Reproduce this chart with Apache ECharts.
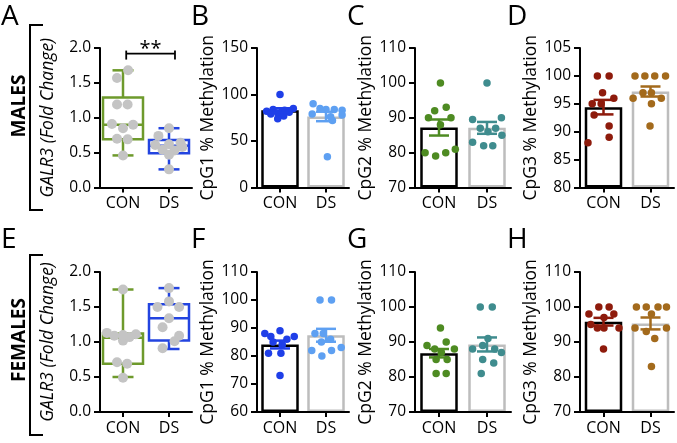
<!DOCTYPE html>
<html><head><meta charset="utf-8">
<script src="https://cdn.jsdelivr.net/npm/echarts@6/dist/echarts.min.js"></script>
<style>html,body{margin:0;padding:0;background:#fff}#chart{width:677px;height:443px}</style>
</head><body><div id="chart"></div>
<script>
const categories = ['CON', 'DS'];

// ---- A: males GALR3 (box: min, q1, median, q3, max) ----
const maleGalr3BoxCON = [0.46, 0.69, 0.90, 1.29, 1.68];
const maleGalr3BoxDS  = [0.26, 0.49, 0.60, 0.68, 0.85];
const maleGalr3CON = [1.68, 1.57, 1.19, 1.19, 0.91, 0.85, 0.90, 0.70, 0.69, 0.46];
const maleGalr3CONJitter = [0.11, -0.13, -0.13, 0.10, -0.24, 0, 0.22, -0.13, 0.10, 0];
const maleGalr3DS = [0.85, 0.74, 0.61, 0.62, 0.64, 0.54, 0.53, 0.58, 0.47, 0.26];
const maleGalr3DSJitter = [0, -0.23, -0.30, 0, 0.25, -0.14, 0.12, 0.29, 0, 0];
const maleSigBracket = [0.07, 1.13, 1.92];
const maleSigText = '**';

// ---- B: males CpG1 ----
const maleCpG1Mean = [83.0, 76.4];
const maleCpG1Sem = [2.2, 5.1];
const maleCpG1CON = [100, 85, 84, 83, 82, 81, 80, 79, 77, 74];
const maleCpG1CONJitter = [0, 0.29, -0.15, 0.10, -0.29, 0.20, -0.05, -0.20, 0.08, -0.05];
const maleCpG1DS = [90, 85, 84, 84, 83, 79, 78, 76, 72, 33];
const maleCpG1DSJitter = [-0.28, -0.13, 0, 0.18, 0.35, -0.30, 0.35, 0.10, 0.14, 0.03];

// ---- C: males CpG2 ----
const maleCpG2Mean = [87.2, 87.1];
const maleCpG2Sem = [2.3, 1.7];
const maleCpG2CON = [100, 92, 93, 90, 90, 88, 80, 79, 80, 81];
const maleCpG2CONJitter = [0.03, -0.09, 0.15, -0.22, 0.25, 0.03, -0.29, -0.07, 0.14, 0.34];
const maleCpG2DS = [100, 90, 89.5, 87, 87, 86, 85, 83, 82, 82];
const maleCpG2DSJitter = [0, 0.30, -0.30, -0.14, 0.18, 0.02, 0.31, -0.30, -0.07, 0.12];

// ---- D: males CpG3 ----
const maleCpG3Mean = [94.4, 97.2];
const maleCpG3Sem = [1.3, 0.9];
const maleCpG3CON = [100, 100, 97, 95, 95, 96, 93, 91, 88, 89];
const maleCpG3CONJitter = [-0.13, 0.12, -0.02, -0.24, -0.05, 0.22, -0.20, 0.12, -0.33, 0.12];
const maleCpG3DS = [100, 100, 100, 100, 97, 97, 96, 96, 95, 91];
const maleCpG3DSJitter = [-0.33, -0.12, 0.09, 0.32, -0.16, 0.02, -0.37, 0.23, 0.02, -0.01];

// ---- E: females GALR3 ----
const femaleGalr3BoxCON = [0.50, 0.69, 1.06, 1.12, 1.75];
const femaleGalr3BoxDS  = [0.90, 1.02, 1.34, 1.54, 1.77];
const femaleGalr3CON = [1.75, 1.13, 1.09, 1.02, 1.07, 1.11, 1.10, 0.71, 0.69, 0.49];
const femaleGalr3CONJitter = [0, -0.35, -0.19, 0, 0.14, 0.28, 0, -0.13, 0.09, 0];
const femaleGalr3DS = [1.77, 1.58, 1.50, 1.50, 1.34, 1.21, 1.09, 1.01, 0.91];
const femaleGalr3DSJitter = [0, 0, -0.25, 0.22, 0, -0.14, 0.22, 0.12, -0.14];

// ---- F: females CpG1 ----
const femaleCpG1Mean = [84.1, 87.4];
const femaleCpG1Sem = [1.4, 2.3];
const femaleCpG1CON = [89, 88, 87, 87, 86, 85, 84, 81, 81, 73];
const femaleCpG1CONJitter = [0, -0.33, -0.20, 0.31, 0.15, -0.15, 0.05, -0.25, 0.02, 0];
const femaleCpG1DS = [100, 100, 88, 88, 86, 85, 83, 82, 82, 80];
const femaleCpG1DSJitter = [-0.13, 0.12, -0.24, -0.06, 0.10, -0.10, 0.33, -0.31, 0.12, -0.09];

// ---- G: females CpG2 ----
const femaleCpG2Mean = [86.8, 89.3];
const femaleCpG2Sem = [1.2, 2.0];
const femaleCpG2CON = [94, 90, 89, 88, 88, 87, 85, 85, 81, 81];
const femaleCpG2CONJitter = [0.03, 0.15, -0.25, 0.32, -0.09, 0.05, -0.06, 0.17, -0.06, 0.15];
const femaleCpG2DS = [100, 100, 91, 89, 88, 88, 87, 85, 84, 81];
const femaleCpG2DSJitter = [-0.14, 0.11, 0.02, -0.09, -0.30, 0.16, 0.30, -0.09, 0.14, -0.12];

// ---- H: females CpG3 ----
const femaleCpG3Mean = [95.8, 95.3];
const femaleCpG3Sem = [1.1, 1.7];
const femaleCpG3CON = [100, 100, 98, 98, 97, 95, 94, 94, 94, 88];
const femaleCpG3CONJitter = [-0.10, 0.12, -0.31, 0.22, 0.01, -0.27, 0.01, 0.33, -0.13, 0];
const femaleCpG3DS = [100, 100, 100, 100, 98, 94, 94, 93, 91, 83];
const femaleCpG3DSJitter = [-0.30, -0.09, 0.16, 0.34, 0.02, -0.33, 0.34, -0.09, 0.09, 0.02];

// ---------------- drawing ----------------
const FONT = 'Open Sans';
const GRAY_DOT = '#c4c4c4';
const BOX_COLORS = ['#6e9a2c', '#2344e0'];
const CPG1_COLORS = ['#1f3fe8', '#5ea0f2'];
const CPG2_COLORS = ['#4e8b22', '#3f8c8e'];
const CPG3_COLORS = ['#8e1b0c', '#a36a1c'];
const BAR_BORDERS = ['#000000', '#bdbdbd'];

const option = {
  animation: false,
  backgroundColor: '#ffffff',
  grid: [], xAxis: [], yAxis: [], series: [], graphic: []
};

function addAxes(i, g, y) {
  option.grid.push({ left: g.left, top: g.top, width: g.width, height: g.height });
  option.xAxis.push({
    type: 'category', gridIndex: i, data: categories, boundaryGap: true, z: 5,
    axisLine: { show: true, onZero: false, lineStyle: { color: '#000', width: 2 } },
    axisTick: { show: true, alignWithLabel: true, length: 5, lineStyle: { color: '#000', width: 2 } },
    axisLabel: { color: '#000', fontFamily: FONT, fontSize: 16, margin: 8 },
    splitLine: { show: false }
  });
  option.xAxis.push({ type: 'value', gridIndex: i, min: -0.5, max: 1.5, show: false });
  option.yAxis.push({
    type: 'value', gridIndex: i, min: y.min, max: y.max, interval: y.interval, startValue: y.min, z: 5,
    name: y.name, nameLocation: 'middle', nameGap: y.nameGap, nameRotate: 90,
    nameTextStyle: { color: '#000', fontFamily: FONT, fontSize: y.nameSize, fontStyle: y.italic ? 'italic' : 'normal' },
    axisLine: { show: true, onZero: false, lineStyle: { color: '#000', width: 2 } },
    axisTick: { show: true, length: 6, lineStyle: { color: '#000', width: 2 } },
    axisLabel: { color: '#000', fontFamily: FONT, fontSize: 15.5, margin: 9,
      formatter: y.decimals ? (v => v.toFixed(y.decimals)) : (v => String(v)) },
    splitLine: { show: false }
  });
}

function scatterSeries(i, vals, jit, cat, color, size) {
  return {
    type: 'scatter', xAxisIndex: 2 * i + 1, yAxisIndex: i, z: 3, symbolSize: size,
    itemStyle: { color: color, opacity: 1 },
    data: vals.map((v, k) => [cat + jit[k], v])
  };
}

function boxSeries(i, boxCON, boxDS) {
  return {
    type: 'custom', xAxisIndex: 2 * i + 1, yAxisIndex: i, z: 2,
    data: [[0].concat(boxCON), [1].concat(boxDS)],
    renderItem: function (params, api) {
      const x = api.value(0);
      const pMin = api.coord([x, api.value(1)]);
      const pQ1 = api.coord([x, api.value(2)]);
      const pMed = api.coord([x, api.value(3)]);
      const pQ3 = api.coord([x, api.value(4)]);
      const pMax = api.coord([x, api.value(5)]);
      const hw = 20, cw = 10.5, cx = pMed[0];
      const st = { stroke: BOX_COLORS[params.dataIndex], lineWidth: 2.5, fill: null };
      const ln = (x1, y1, x2, y2) => ({ type: 'line', shape: { x1, y1, x2, y2 }, style: st });
      return { type: 'group', children: [
        { type: 'rect', shape: { x: cx - hw, y: pQ3[1], width: 2 * hw, height: pQ1[1] - pQ3[1] }, style: st },
        ln(cx - hw, pMed[1], cx + hw, pMed[1]),
        ln(cx, pQ3[1], cx, pMax[1]),
        ln(cx, pQ1[1], cx, pMin[1]),
        ln(cx - cw, pMax[1], cx + cw, pMax[1]),
        ln(cx - cw, pMin[1], cx + cw, pMin[1])
      ] };
    }
  };
}

function barSeries(i, means) {
  return {
    type: 'bar', xAxisIndex: 2 * i, yAxisIndex: i, z: 2, barWidth: 37.5, clip: true,
    data: means.map((m, k) => ({ value: m, itemStyle: { color: '#fff', borderColor: BAR_BORDERS[k], borderWidth: 2.5 } }))
  };
}

function errorSeries(i, means, sems, colors) {
  return {
    type: 'custom', xAxisIndex: 2 * i + 1, yAxisIndex: i, z: 4,
    data: means.map((m, k) => [k, m, sems[k]]),
    renderItem: function (params, api) {
      const x = api.value(0), m = api.value(1), s = api.value(2);
      const t = api.coord([x, m + s]), b = api.coord([x, m - s]);
      const hw = 10;
      const st = { stroke: colors[params.dataIndex], lineWidth: 2.5 };
      return { type: 'group', children: [
        { type: 'line', shape: { x1: t[0], y1: t[1], x2: b[0], y2: b[1] }, style: st },
        { type: 'line', shape: { x1: t[0] - hw, y1: t[1], x2: t[0] + hw, y2: t[1] }, style: st },
        { type: 'line', shape: { x1: b[0] - hw, y1: b[1], x2: b[0] + hw, y2: b[1] }, style: st }
      ] };
    }
  };
}

function sigSeries(i, br, text) {
  return {
    type: 'custom', xAxisIndex: 2 * i + 1, yAxisIndex: i, z: 4,
    data: [br],
    renderItem: function (params, api) {
      const p1 = api.coord([api.value(0), api.value(2)]);
      const p2 = api.coord([api.value(1), api.value(2)]);
      const st = { stroke: '#000', lineWidth: 1.8 };
      return { type: 'group', children: [
        { type: 'line', shape: { x1: p1[0], y1: p1[1], x2: p2[0], y2: p2[1] }, style: st },
        { type: 'line', shape: { x1: p1[0], y1: p1[1] - 3, x2: p1[0], y2: p1[1] + 6 }, style: st },
        { type: 'line', shape: { x1: p2[0], y1: p2[1] - 3, x2: p2[0], y2: p2[1] + 6 }, style: st },
        { type: 'text', x: (p1[0] + p2[0]) / 2, y: p1[1] + 6,
          style: { text: text, fill: '#000', font: '20px "Open Sans"', align: 'center', verticalAlign: 'bottom' } }
      ] };
    }
  };
}

const TOP = 48, TOPH = 139.5, BOT = 272, BOTH = 140;
const galr3Axis = { min: 0, max: 2, interval: 0.5, decimals: 1, name: 'GALR3 (Fold Change)', italic: true, nameSize: 17.5, nameGap: 43 };

// A
addAxes(0, { left: 100, top: TOP, width: 92, height: TOPH }, galr3Axis);
option.series.push(boxSeries(0, maleGalr3BoxCON, maleGalr3BoxDS));
option.series.push(scatterSeries(0, maleGalr3CON, maleGalr3CONJitter, 0, GRAY_DOT, 10));
option.series.push(scatterSeries(0, maleGalr3DS, maleGalr3DSJitter, 1, GRAY_DOT, 10));
option.series.push(sigSeries(0, maleSigBracket, maleSigText));

function barPanel(i, g, y, means, sems, con, conJ, ds, dsJ, colors) {
  addAxes(i, g, y);
  option.series.push(barSeries(i, means));
  option.series.push(scatterSeries(i, con, conJ, 0, colors[0], 7.5));
  option.series.push(scatterSeries(i, ds, dsJ, 1, colors[1], 7.5));
  option.series.push(errorSeries(i, means, sems, colors));
}

// B, C, D
barPanel(1, { left: 257, top: TOP, width: 92, height: TOPH },
  { min: 0, max: 150, interval: 50, name: 'CpG1 % Methylation', nameSize: 17.5, nameGap: 38 },
  maleCpG1Mean, maleCpG1Sem, maleCpG1CON, maleCpG1CONJitter, maleCpG1DS, maleCpG1DSJitter, CPG1_COLORS);
barPanel(2, { left: 415, top: TOP, width: 96, height: TOPH },
  { min: 70, max: 110, interval: 10, name: 'CpG2 % Methylation', nameSize: 17.5, nameGap: 31 },
  maleCpG2Mean, maleCpG2Sem, maleCpG2CON, maleCpG2CONJitter, maleCpG2DS, maleCpG2DSJitter, CPG2_COLORS);
barPanel(3, { left: 580, top: TOP, width: 94, height: TOPH },
  { min: 80, max: 105, interval: 5, name: 'CpG3 % Methylation', nameSize: 17.5, nameGap: 35 },
  maleCpG3Mean, maleCpG3Sem, maleCpG3CON, maleCpG3CONJitter, maleCpG3DS, maleCpG3DSJitter, CPG3_COLORS);

// E
addAxes(4, { left: 100, top: BOT, width: 92, height: BOTH }, galr3Axis);
option.series.push(boxSeries(4, femaleGalr3BoxCON, femaleGalr3BoxDS));
option.series.push(scatterSeries(4, femaleGalr3CON, femaleGalr3CONJitter, 0, GRAY_DOT, 10));
option.series.push(scatterSeries(4, femaleGalr3DS, femaleGalr3DSJitter, 1, GRAY_DOT, 10));

// F, G, H
barPanel(5, { left: 257, top: BOT, width: 92, height: BOTH },
  { min: 60, max: 110, interval: 10, name: 'CpG1 % Methylation', nameSize: 17.5, nameGap: 38 },
  femaleCpG1Mean, femaleCpG1Sem, femaleCpG1CON, femaleCpG1CONJitter, femaleCpG1DS, femaleCpG1DSJitter, CPG1_COLORS);
barPanel(6, { left: 415, top: BOT, width: 96, height: BOTH },
  { min: 70, max: 110, interval: 10, name: 'CpG2 % Methylation', nameSize: 17.5, nameGap: 31 },
  femaleCpG2Mean, femaleCpG2Sem, femaleCpG2CON, femaleCpG2CONJitter, femaleCpG2DS, femaleCpG2DSJitter, CPG2_COLORS);
barPanel(7, { left: 580, top: BOT, width: 94, height: BOTH },
  { min: 70, max: 110, interval: 10, name: 'CpG3 % Methylation', nameSize: 17.5, nameGap: 35 },
  femaleCpG3Mean, femaleCpG3Sem, femaleCpG3CON, femaleCpG3CONJitter, femaleCpG3DS, femaleCpG3DSJitter, CPG3_COLORS);

// panel letters, group labels and brackets
const panelLetters = [['A', 1, 17], ['B', 191, 17], ['C', 347, 17], ['D', 507, 17],
                      ['E', 1, 240], ['F', 191, 240], ['G', 347, 240], ['H', 507, 240]];
panelLetters.forEach(([t, x, y]) => option.graphic.push({
  type: 'text', x: x, y: y, z: 10,
  style: { text: t, fill: '#000', font: '28px "Open Sans"', align: 'left', verticalAlign: 'middle' }
}));
[['MALES', 106], ['FEMALES', 340]].forEach(([t, y]) => option.graphic.push({
  type: 'text', x: 20, y: y, rotation: Math.PI / 2, z: 10,
  style: { text: t, fill: '#000', font: 'bold 19px "Open Sans"', align: 'center', verticalAlign: 'middle' }
}));
[[25, 210], [255, 435]].forEach(([y1, y2]) => option.graphic.push({
  type: 'polyline', z: 10,
  shape: { points: [[43, y1], [30, y1], [30, y2], [43, y2]] },
  style: { stroke: '#000', lineWidth: 2, fill: null }
}));

const chart = echarts.init(document.getElementById('chart'), null, { renderer: 'canvas' });
chart.setOption(option);
</script>
</body></html>
